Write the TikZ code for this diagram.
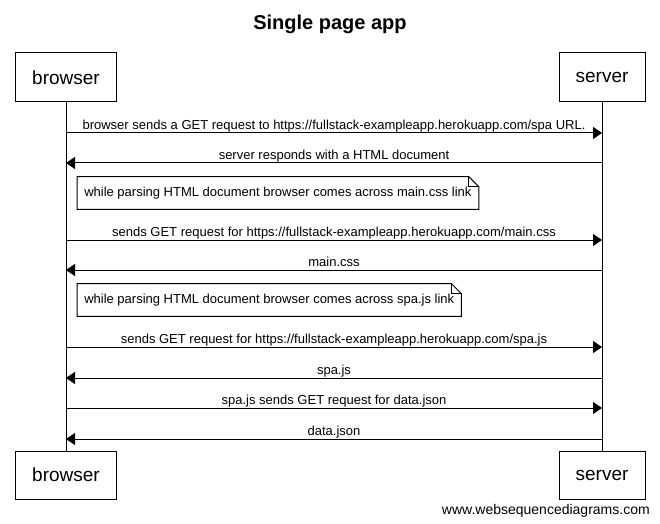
\documentclass[tikz,border=0pt]{standalone}
\usepackage{fontspec}
\setmainfont{Liberation Sans}
\usetikzlibrary{arrows.meta}
\begin{document}
\begin{tikzpicture}[x=0.75pt,y=-0.75pt,
  actor/.style={draw, line width=0.75pt, inner sep=0pt, font=\fontsize{14.25}{16}\selectfont},
  lifeline/.style={line width=0.75pt},
  msg/.style={line width=0.75pt, -{Triangle[length=6.75pt,width=9pt]}},
  msglabel/.style={anchor=base, yshift=2.6pt, inner sep=0pt, font=\fontsize{9.75}{12}\selectfont},
  notebox/.style={anchor=west, minimum height=24pt, inner xsep=5.25pt, inner ysep=0pt, font=\fontsize{9.75}{12}\selectfont},
  notefold/.style={line width=0.75pt},
  caption/.style={inner sep=0pt}
]
\useasboundingbox (0,0) rectangle (660,524);

% title
\node[caption, anchor=base, font=\fontsize{15}{18}\selectfont\bfseries] (title) at (330,29.5) {Single page app};

% participants, top and bottom
\node[actor, minimum width=75.75pt, minimum height=36.75pt] (bt) at (66,77.5) {browser};
\node[actor, minimum width=64.5pt, minimum height=36.75pt] (st) at (602,77.5) {server};
\node[actor, minimum width=75.75pt, minimum height=36pt] (bb) at (66,475) {browser};
\node[actor, minimum width=64.5pt, minimum height=36pt] (sb) at (602,475) {server};

% lifelines
\draw[lifeline] (bt.south) -- (bb.north);
\draw[lifeline] (st.south) -- (sb.north);

% message anchors on both lifelines
\foreach \i/\y in {1/133,2/163,3/240,4/270,5/347,6/378,7/408,8/439} {
  \coordinate (b\i) at (66,\y);
  \coordinate (s\i) at (602,\y);
}

% messages
\draw[msg] (b1) -- node[msglabel] {browser sends a GET request to https://fullstack-exampleapp.herokuapp.com/spa URL.} (s1);
\draw[msg] (s2) -- node[msglabel] {server responds with a HTML document} (b2);
\draw[msg] (b3) -- node[msglabel] {sends GET request for https://fullstack-exampleapp.herokuapp.com/main.css} (s3);
\draw[msg] (s4) -- node[msglabel] {main.css} (b4);
\draw[msg] (b5) -- node[msglabel] {sends GET request for https://fullstack-exampleapp.herokuapp.com/spa.js} (s5);
\draw[msg] (s6) -- node[msglabel] {spa.js} (b6);
\draw[msg] (b7) -- node[msglabel] {spa.js sends GET request for data.json} (s7);
\draw[msg] (s8) -- node[msglabel] {data.json} (b8);

% notes with a folded corner
\node[notebox] (n1) at (77,193) {while parsing HTML document browser comes across main.css link};
\node[notebox] (n2) at (77,300) {while parsing HTML document browser comes across spa.js link};
\foreach \n in {n1,n2} {
  \draw[notefold] (\n.south west) -- (\n.north west) -- ([xshift=-7.5pt]\n.north east)
    -- ([yshift=-7.5pt]\n.north east) -- (\n.south east) -- cycle;
  \draw[notefold] ([xshift=-7.5pt]\n.north east) -- ([xshift=-7.5pt,yshift=-7.5pt]\n.north east)
    -- ([yshift=-7.5pt]\n.north east);
}

% footer
\node[caption, anchor=base east, font=\fontsize{10.5}{12}\selectfont] (footer) at (650,514) {www.websequencediagrams.com};
\end{tikzpicture}
\end{document}
